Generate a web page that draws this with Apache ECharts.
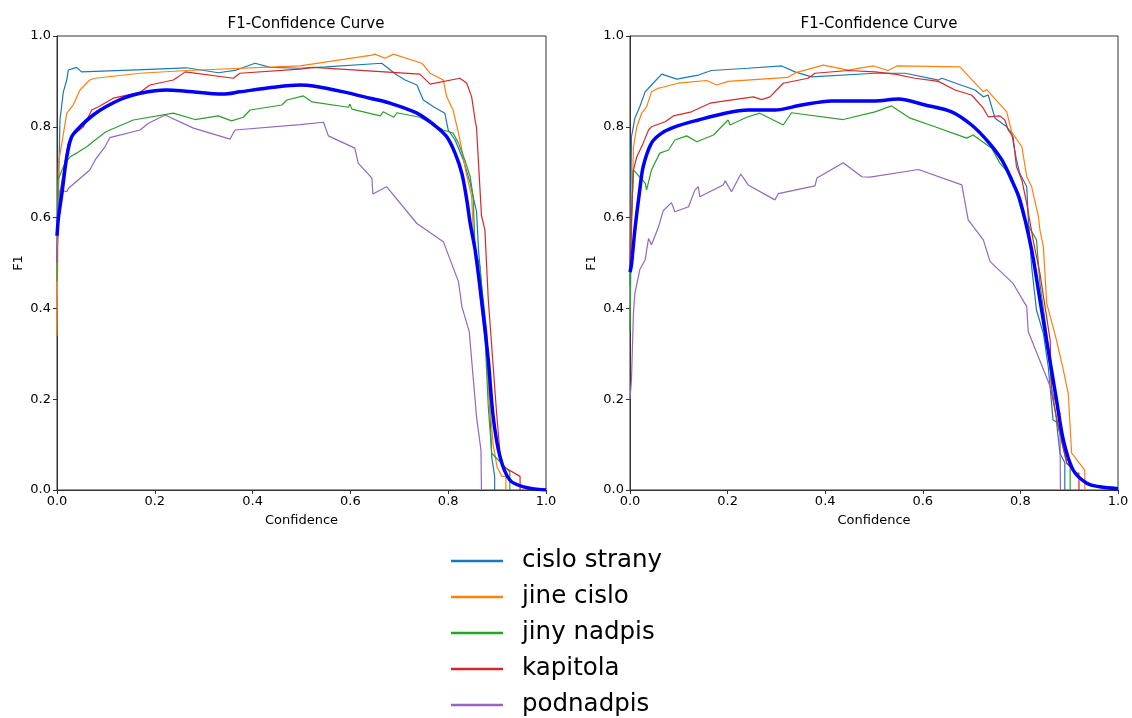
<!DOCTYPE html>
<html><head><meta charset="utf-8">
<script src="https://cdn.jsdelivr.net/npm/echarts@6/dist/echarts.min.js"></script>
<style>html,body{margin:0;padding:0;background:#fff}#c{width:1132px;height:718px}</style>
</head><body><div id="c"></div>
<script>
const classNames = ['cislo strany','jine cislo','jiny nadpis','kapitola','podnadpis'];
const meanName = 'all classes';
const colors = ['#1f77b4','#ff7f0e','#2ca02c','#d62728','#9467bd'];
const tickValues = [0,0.2,0.4,0.6,0.8,1.0];

const L_cs = [[0,0.5],[0.002,0.6],[0.006,0.815],[0.013,0.877],[0.02,0.903],[0.023,0.925],[0.04,0.931],[0.05,0.921],[0.15,0.925],[0.265,0.93],[0.33,0.919],[0.367,0.925],[0.405,0.94],[0.436,0.931],[0.497,0.929],[0.55,0.932],[0.664,0.94],[0.695,0.914],[0.712,0.903],[0.736,0.892],[0.749,0.859],[0.77,0.844],[0.793,0.83],[0.8,0.793],[0.814,0.771],[0.831,0.727],[0.845,0.676],[0.851,0.646],[0.858,0.613],[0.862,0.529],[0.868,0.455],[0.879,0.346],[0.885,0.183],[0.889,0.073],[0.895,0.03],[0.895,0]];
const L_jc = [[0,0.34],[0.001,0.46],[0.003,0.72],[0.01,0.764],[0.02,0.83],[0.033,0.848],[0.047,0.881],[0.067,0.903],[0.078,0.907],[0.17,0.918],[0.265,0.924],[0.497,0.934],[0.644,0.958],[0.65,0.96],[0.671,0.951],[0.688,0.96],[0.746,0.94],[0.763,0.918],[0.79,0.903],[0.797,0.866],[0.81,0.837],[0.821,0.786],[0.828,0.749],[0.837,0.697],[0.848,0.646],[0.851,0.573],[0.858,0.5],[0.866,0.42],[0.876,0.33],[0.884,0.2],[0.892,0.1],[0.9,0.05],[0.91,0.03],[0.918,0.03],[0.918,0]];
const L_jn = [[0,0.46],[0.002,0.683],[0.016,0.72],[0.027,0.734],[0.04,0.742],[0.05,0.749],[0.061,0.756],[0.078,0.771],[0.1,0.789],[0.156,0.815],[0.238,0.83],[0.282,0.816],[0.33,0.824],[0.357,0.813],[0.381,0.821],[0.395,0.837],[0.46,0.848],[0.47,0.859],[0.504,0.868],[0.521,0.855],[0.596,0.843],[0.599,0.85],[0.603,0.839],[0.661,0.824],[0.667,0.833],[0.689,0.821],[0.695,0.831],[0.742,0.821],[0.79,0.793],[0.81,0.786],[0.821,0.764],[0.834,0.727],[0.845,0.69],[0.851,0.646],[0.855,0.529],[0.865,0.492],[0.875,0.346],[0.882,0.183],[0.889,0.081],[0.916,0.051],[0.926,0.04],[0.926,0]];
const L_kp = [[0,0.5],[0.002,0.58],[0.006,0.653],[0.016,0.72],[0.023,0.764],[0.033,0.782],[0.054,0.8],[0.071,0.837],[0.085,0.844],[0.115,0.863],[0.17,0.876],[0.19,0.892],[0.238,0.903],[0.248,0.91],[0.262,0.921],[0.361,0.907],[0.374,0.918],[0.497,0.927],[0.524,0.931],[0.742,0.916],[0.763,0.894],[0.824,0.907],[0.838,0.896],[0.848,0.866],[0.855,0.815],[0.858,0.797],[0.862,0.72],[0.868,0.605],[0.875,0.573],[0.882,0.419],[0.889,0.316],[0.899,0.169],[0.906,0.081],[0.913,0.051],[0.947,0.03],[0.947,0]];
const L_pn = [[0,0.5],[0.002,0.602],[0.006,0.661],[0.02,0.657],[0.023,0.664],[0.067,0.705],[0.078,0.727],[0.098,0.756],[0.108,0.776],[0.17,0.793],[0.187,0.808],[0.221,0.826],[0.279,0.797],[0.354,0.773],[0.364,0.793],[0.497,0.805],[0.545,0.81],[0.555,0.78],[0.609,0.753],[0.616,0.72],[0.644,0.687],[0.646,0.652],[0.674,0.668],[0.736,0.587],[0.79,0.547],[0.821,0.459],[0.828,0.404],[0.843,0.349],[0.848,0.286],[0.858,0.161],[0.867,0.088],[0.868,0]];
const L_all = [[0,0.56],[0.003,0.6],[0.01,0.653],[0.02,0.734],[0.03,0.778],[0.047,0.8],[0.074,0.826],[0.1,0.844],[0.136,0.863],[0.17,0.874],[0.224,0.881],[0.258,0.879],[0.34,0.872],[0.374,0.877],[0.442,0.887],[0.497,0.892],[0.524,0.89],[0.586,0.877],[0.64,0.863],[0.681,0.852],[0.736,0.83],[0.776,0.8],[0.797,0.778],[0.814,0.742],[0.828,0.697],[0.838,0.639],[0.845,0.587],[0.855,0.529],[0.868,0.419],[0.882,0.286],[0.892,0.161],[0.906,0.073],[0.926,0.022],[0.954,0.007],[1.0,0.0]];

const R_cs = [[0,0.45],[0.003,0.778],[0.01,0.819],[0.02,0.844],[0.031,0.877],[0.044,0.892],[0.065,0.916],[0.096,0.905],[0.14,0.914],[0.167,0.924],[0.242,0.929],[0.311,0.934],[0.338,0.921],[0.372,0.91],[0.502,0.918],[0.564,0.918],[0.632,0.903],[0.639,0.907],[0.707,0.881],[0.724,0.866],[0.734,0.87],[0.748,0.819],[0.772,0.8],[0.782,0.786],[0.792,0.727],[0.799,0.697],[0.813,0.668],[0.816,0.602],[0.823,0.492],[0.833,0.396],[0.847,0.345],[0.857,0.272],[0.867,0.154],[0.874,0.15],[0.881,0.081],[0.891,0.06],[0.891,0]];
const R_jc = [[0,0.5],[0.003,0.558],[0.007,0.756],[0.014,0.8],[0.024,0.83],[0.034,0.844],[0.044,0.877],[0.058,0.885],[0.099,0.896],[0.157,0.902],[0.178,0.892],[0.201,0.9],[0.324,0.909],[0.342,0.92],[0.396,0.936],[0.447,0.925],[0.499,0.934],[0.529,0.924],[0.547,0.934],[0.676,0.932],[0.724,0.877],[0.731,0.882],[0.772,0.833],[0.782,0.789],[0.803,0.756],[0.813,0.69],[0.823,0.668],[0.837,0.602],[0.84,0.573],[0.847,0.536],[0.854,0.411],[0.874,0.33],[0.888,0.264],[0.898,0.213],[0.905,0.081],[0.932,0.044],[0.932,0]];
const R_jn = [[0,0.35],[0.003,0.6],[0.007,0.705],[0.031,0.676],[0.034,0.661],[0.044,0.705],[0.061,0.742],[0.079,0.749],[0.092,0.771],[0.116,0.78],[0.137,0.767],[0.171,0.782],[0.201,0.815],[0.205,0.804],[0.239,0.821],[0.266,0.83],[0.314,0.804],[0.331,0.831],[0.437,0.816],[0.502,0.833],[0.536,0.846],[0.574,0.819],[0.625,0.8],[0.69,0.775],[0.703,0.782],[0.741,0.753],[0.758,0.72],[0.782,0.69],[0.792,0.654],[0.806,0.602],[0.833,0.551],[0.84,0.455],[0.854,0.345],[0.864,0.228],[0.874,0.154],[0.884,0.11],[0.895,0.059],[0.902,0.051],[0.902,0]];
const R_kp = [[0,0.49],[0.003,0.6],[0.007,0.705],[0.014,0.734],[0.027,0.764],[0.038,0.793],[0.044,0.8],[0.072,0.811],[0.089,0.824],[0.126,0.833],[0.164,0.852],[0.195,0.857],[0.253,0.866],[0.27,0.86],[0.287,0.866],[0.314,0.896],[0.365,0.907],[0.379,0.918],[0.447,0.924],[0.502,0.921],[0.543,0.916],[0.584,0.907],[0.632,0.9],[0.666,0.881],[0.7,0.87],[0.724,0.841],[0.734,0.822],[0.758,0.824],[0.768,0.815],[0.775,0.793],[0.785,0.778],[0.792,0.712],[0.803,0.683],[0.813,0.631],[0.826,0.551],[0.84,0.477],[0.861,0.33],[0.864,0.213],[0.878,0.139],[0.895,0.059],[0.915,0.037],[0.92,0.037],[0.92,0]];
const R_pn = [[0,0.2],[0.003,0.242],[0.007,0.389],[0.01,0.433],[0.02,0.485],[0.031,0.507],[0.038,0.554],[0.044,0.54],[0.058,0.578],[0.068,0.615],[0.085,0.633],[0.092,0.613],[0.12,0.624],[0.133,0.661],[0.14,0.668],[0.143,0.646],[0.191,0.672],[0.195,0.681],[0.208,0.657],[0.227,0.696],[0.242,0.672],[0.297,0.639],[0.304,0.653],[0.379,0.67],[0.383,0.687],[0.437,0.721],[0.475,0.69],[0.492,0.689],[0.591,0.706],[0.68,0.672],[0.693,0.595],[0.724,0.551],[0.738,0.503],[0.785,0.455],[0.813,0.404],[0.816,0.349],[0.857,0.239],[0.881,0.169],[0.882,0]];
const R_all = [[0,0.48],[0.003,0.496],[0.01,0.573],[0.02,0.661],[0.027,0.712],[0.044,0.764],[0.065,0.786],[0.092,0.8],[0.14,0.815],[0.195,0.83],[0.242,0.837],[0.297,0.837],[0.352,0.848],[0.413,0.857],[0.502,0.857],[0.55,0.861],[0.605,0.848],[0.659,0.833],[0.7,0.804],[0.734,0.767],[0.762,0.727],[0.782,0.683],[0.799,0.639],[0.823,0.529],[0.84,0.419],[0.857,0.308],[0.874,0.198],[0.888,0.11],[0.908,0.044],[0.936,0.015],[0.963,0.007],[1.0,0.003]];

const leftSets = [L_cs, L_jc, L_jn, L_kp, L_pn];
const rightSets = [R_cs, R_jc, R_jn, R_kp, R_pn];

const FONT = 'DejaVu Sans';
function axisX(gi){
  return {type:'value', gridIndex:gi, min:0, max:1, interval:0.2,
    name:'Confidence', nameLocation:'middle', nameGap:24,
    nameTextStyle:{fontFamily:FONT,fontSize:13,color:'#000'},
    axisLine:{show:true,lineStyle:{color:'#333',width:1}},
    axisTick:{show:true,inside:false,length:4,lineStyle:{color:'#333'}},
    axisLabel:{fontFamily:FONT,fontSize:13,color:'#000',margin:5,formatter:v=>v.toFixed(1)},
    splitLine:{show:false}};
}
function axisY(gi){
  return {type:'value', gridIndex:gi, min:0, max:1, interval:0.2,
    name:'F1', nameLocation:'middle', nameGap:32, nameRotate:90,
    nameTextStyle:{fontFamily:FONT,fontSize:13,color:'#000'},
    axisLine:{show:true,lineStyle:{color:'#333',width:1}},
    axisTick:{show:true,inside:false,length:4,lineStyle:{color:'#333'}},
    axisLabel:{fontFamily:FONT,fontSize:13,color:'#000',margin:6,formatter:v=>v.toFixed(1)},
    splitLine:{show:false}};
}
const series = [];
[leftSets, rightSets].forEach((sets, gi)=>{
  sets.forEach((d,i)=>{
    series.push({type:'line', name:classNames[i], xAxisIndex:gi, yAxisIndex:gi, data:d,
      showSymbol:false, symbol:'none', lineStyle:{color:colors[i], width:1.2}, itemStyle:{color:colors[i]}, z:2});
  });
  series.push({type:'line', name:meanName, xAxisIndex:gi, yAxisIndex:gi, data: gi===0?L_all:R_all,
    showSymbol:false, symbol:'none', smooth:0.3, lineStyle:{color:'#0000ff', width:3.5}, itemStyle:{color:'#0000ff'}, z:3});
});

const chart = echarts.init(document.getElementById('c'), null, {renderer:'canvas'});
chart.setOption({
  animation:false,
  backgroundColor:'#fff',
  title:[
    {text:'F1-Confidence Curve', left:301, top:12, textAlign:'center', textStyle:{fontFamily:FONT,fontSize:15,fontWeight:'normal',color:'#000'}},
    {text:'F1-Confidence Curve', left:874, top:12, textAlign:'center', textStyle:{fontFamily:FONT,fontSize:15,fontWeight:'normal',color:'#000'}}
  ],
  grid:[
    {left:57, top:36, width:489, height:454, show:true, borderColor:'#333', borderWidth:1, containLabel:false},
    {left:630, top:36, width:488, height:454, show:true, borderColor:'#333', borderWidth:1, containLabel:false}
  ],
  xAxis:[axisX(0), axisX(1)],
  yAxis:[axisY(0), axisY(1)],
  legend:{data:classNames, orient:'vertical', left:451, top:548.5, height:220, padding:0, itemWidth:52, itemHeight:2.5, icon:'rect', itemGap:11,
    textStyle:{fontFamily:FONT,fontSize:24.5,color:'#000',padding:[0,0,0,14]}},
  series:series
});
</script></body></html>
